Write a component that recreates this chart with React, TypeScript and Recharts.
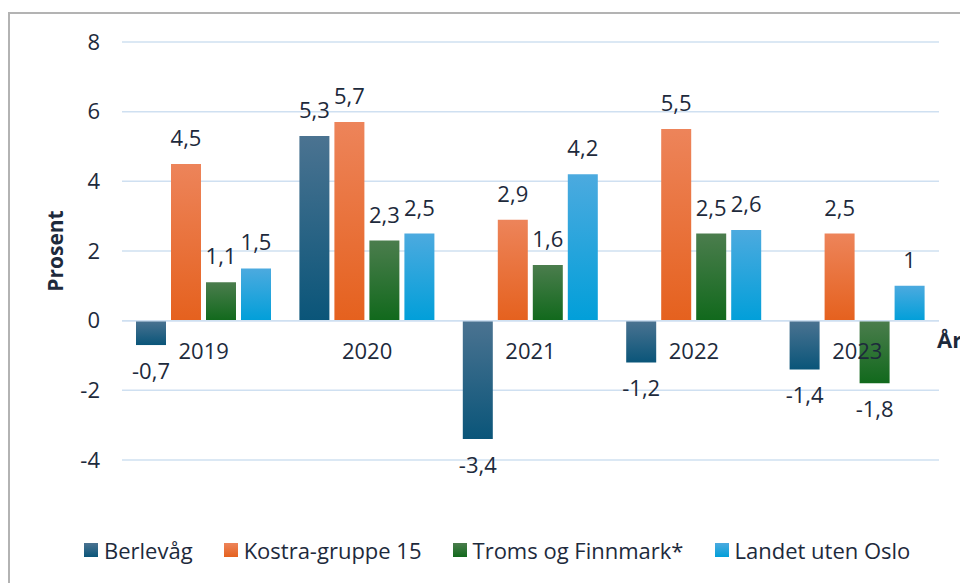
import {
  BarChart, Bar, XAxis, YAxis, CartesianGrid, Legend, LabelList, ReferenceLine,
} from 'recharts';

const categories = ['2019', '2020', '2021', '2022', '2023'];
const berlevag = [-0.7, 5.3, -3.4, -1.2, -1.4];
const kostra = [4.5, 5.7, 2.9, 5.5, 2.5];
const troms = [1.1, 2.3, 1.6, 2.5, -1.8];
const landet = [1.5, 2.5, 4.2, 2.6, 1];
const yTicks = [-4, -2, 0, 2, 4, 6, 8];

const series = [
  { key: 'berlevag', name: 'Berlevåg', top: '#4b7391', bottom: '#0a5579' },
  { key: 'kostra', name: 'Kostra-gruppe 15', top: '#ed845a', bottom: '#e5611e' },
  { key: 'troms', name: 'Troms og Finnmark*', top: '#4b7d4d', bottom: '#11691c' },
  { key: 'landet', name: 'Landet uten Oslo', top: '#4caadf', bottom: '#019fd9' },
];

const data = categories.map((year, i) => ({
  year,
  berlevag: berlevag[i],
  kostra: kostra[i],
  troms: troms[i],
  landet: landet[i],
}));

const W = 960;
const H = 583;
const TOP = 42;
const PLOT_H = 418;
const Y_MIN = -4;
const Y_MAX = 8;
const ZERO_Y = TOP + (PLOT_H * Y_MAX) / (Y_MAX - Y_MIN);

const TEXT = '#1d2a3c';
const FONT = '"Open Sans", "Noto Sans", sans-serif';
const FS = 22;

const fmt = (v: number) => String(v).replace('.', ',');

// year labels sit just under the zero line, not at the bottom of the plot
const renderYearTick = ({ x, payload }: any) => (
  <text x={x} y={ZERO_Y + 38} textAnchor="middle" fill={TEXT} fontSize={FS} fontFamily={FONT}>
    {payload.value}
  </text>
);

function AarLabel({ viewBox }: any) {
  return (
    <text
      x={viewBox.x + viewBox.width - 2}
      y={viewBox.y + 27}
      fill={TEXT}
      fontSize={FS}
      fontWeight="bold"
      fontFamily={FONT}
    >
      År
    </text>
  );
}

function LegendContent() {
  return (
    <div style={{ display: 'flex', paddingLeft: 84, gap: 31, fontFamily: FONT, fontSize: FS, color: TEXT, height: 30, alignItems: 'center' }}>
      {series.map((s) => (
        <div key={s.key} style={{ display: 'flex', alignItems: 'center' }}>
          <span style={{ width: 14, height: 14, background: `linear-gradient(${s.top}, ${s.bottom})`, marginRight: 6, display: 'inline-block' }} />
          {s.name}
        </div>
      ))}
    </div>
  );
}

export default function App() {
  return (
    <div style={{ position: 'fixed', left: 0, top: 0, width: W, height: H, overflow: 'hidden', background: '#fff' }}>
      <div style={{ position: 'absolute', left: 8, top: 12, width: 1000, height: 700, border: '2px solid #b3b3b3' }} />
      <div style={{ position: 'absolute', left: 0, top: 0 }}>
        <BarChart
          width={W}
          height={H}
          data={data}
          margin={{ top: TOP, right: 21, left: 40, bottom: 92 }}
          barSize={30}
          barGap={5}
        >
          <defs>
            {series.map((s) => (
              <linearGradient key={s.key} id={`grad-${s.key}`} x1="0" y1="0" x2="0" y2="1">
                <stop offset="0%" stopColor={s.top} />
                <stop offset="100%" stopColor={s.bottom} />
              </linearGradient>
            ))}
          </defs>
          <CartesianGrid vertical={false} stroke="#cfe0f1" strokeWidth={1.5} />
          <XAxis
            dataKey="year"
            height={1}
            axisLine={false}
            tickLine={false}
            tick={renderYearTick}
            interval={0}
          />
          <YAxis
            width={82}
            domain={[Y_MIN, Y_MAX]}
            ticks={yTicks}
            axisLine={false}
            tickLine={false}
            tickMargin={16}
            tick={{ fill: TEXT, fontSize: FS, fontFamily: FONT }}
            label={{
              value: 'Prosent',
              angle: -90,
              position: 'insideLeft',
              offset: 16,
              fill: TEXT,
              fontSize: 21,
              fontWeight: 'bold',
              fontFamily: FONT,
              style: { textAnchor: 'middle' },
            }}
          />
          <ReferenceLine y={0} stroke="#cfe0f1" strokeWidth={1.5} label={<AarLabel />} />
          <Legend
            verticalAlign="bottom"
            content={<LegendContent />}
            wrapperStyle={{ top: 535, left: 0, width: W }}
          />
          {series.map((s) => (
            <Bar key={s.key} dataKey={s.key} name={s.name} fill={`url(#grad-${s.key})`} isAnimationActive={false}>
              <LabelList
                dataKey={s.key}
                position="top"
                offset={18}
                formatter={(v: any) => fmt(Number(v))}
                fill={TEXT}
                fontSize={FS}
                fontFamily={FONT}
              />
            </Bar>
          ))}
        </BarChart>
      </div>
    </div>
  );
}
